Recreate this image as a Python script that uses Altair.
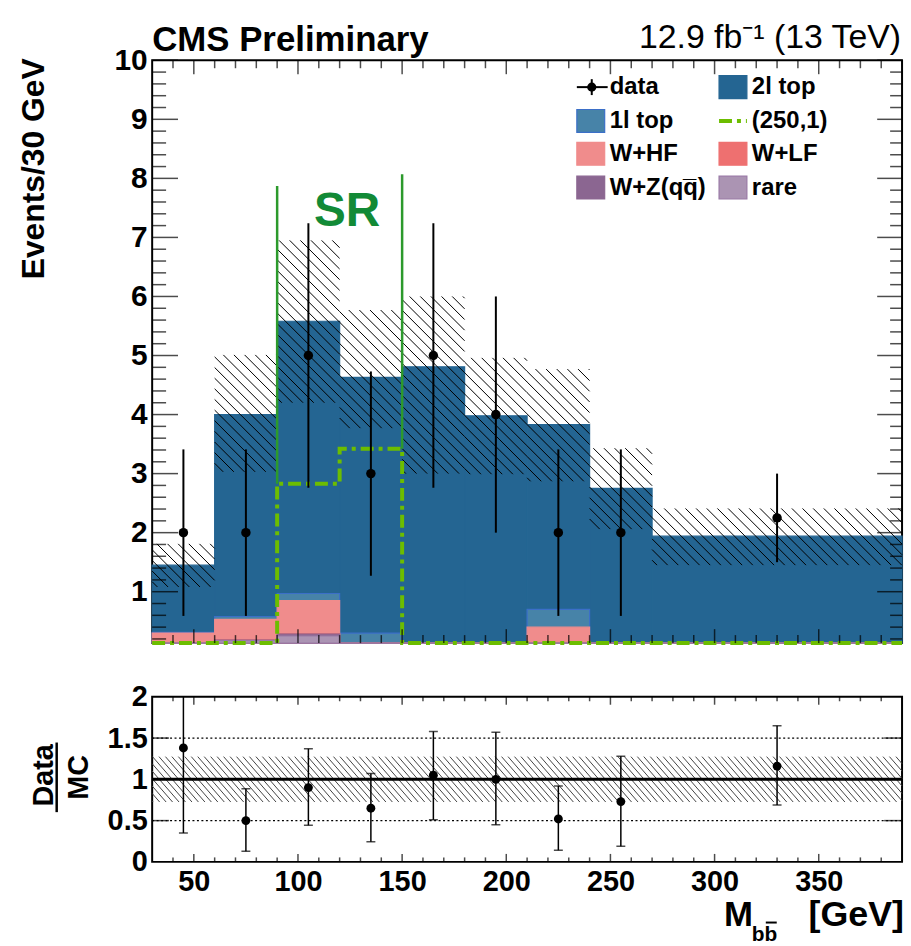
import altair as alt
import numpy as np
import pandas as pd

# ------------------------------------------------------------------ data
bin_lo = [30, 60, 90, 120, 150, 180, 210, 240, 270]
bin_hi = [60, 90, 120, 150, 180, 210, 240, 270, 390]
bin_center = [45, 75, 105, 135, 165, 195, 225, 255, 330]

data_val = [2, 2, 5, 3, 5, 4, 2, 2, 2.25]
data_err = [1.41, 1.41, 2.24, 1.73, 2.24, 2.0, 1.41, 1.41, 0.75]

bkg_rare = [0.03, 0.17, 0.25, 0.04, 0.02, 0.02, 0.03, 0.01, 0.01]
bkg_wz = [0.02, 0.01, 0.03, 0.02, 0.00, 0.00, 0.01, 0.00, 0.00]
bkg_wlf = [0.01, 0.01, 0.01, 0.00, 0.00, 0.00, 0.00, 0.00, 0.00]
bkg_whf = [0.24, 0.34, 0.56, 0.00, 0.00, 0.00, 0.36, 0.00, 0.00]
bkg_1l = [0.01, 0.05, 0.12, 0.24, 0.05, 0.03, 0.30, 0.03, 0.02]
bkg_2l = [1.14, 3.42, 4.61, 4.33, 4.74, 3.93, 3.13, 2.71, 1.91]

band_lo = [1.08, 3.03, 4.20, 3.77, 3.00, 2.99, 2.87, 2.06, 1.45]
band_hi = [1.81, 5.01, 6.95, 5.77, 6.00, 4.96, 4.77, 3.43, 2.41]

signal = [0, 0, 2.83, 3.42, 0, 0, 0, 0, 0]

sr_x = [90, 150]
sr_lo = [2.83, 3.42]
sr_hi = [7.87, 8.07]

ratio_val = [1.38, 0.50, 0.90, 0.65, 1.05, 1.00, 0.52, 0.73, 1.16]
ratio_lo = [0.35, 0.13, 0.445, 0.245, 0.51, 0.45, 0.14, 0.19, 0.69]
ratio_hi = [2.40, 0.887, 1.37, 1.07, 1.58, 1.57, 0.92, 1.28, 1.65]
ratio_band = [0.725, 1.275]
ratio_lines = [0.5, 1.5]

main_y_labels = [1, 2, 3, 4, 5, 6, 7, 8, 9, 10]
ratio_y_labels = [0, 0.5, 1, 1.5, 2]
x_labels = [50, 100, 150, 200, 250, 300, 350]

comp_names = ["2l top", "1l top", "W+HF", "W+LF", "W+Z(qq\u0305)", "rare"]
comp_fill = ["#246592", "#4783a8", "#f08c8c", "#ee7070", "#8b6691", "#ab94b3"]
comp_stroke = ["#246592", "#3b6fc8", "#f08c8c", "#ee7070", "#8b6691", "#9a7aa6"]

# ------------------------------------------------------------------ layout
W = 754
H_MAIN = 586
H_RATIO = 166
X_DOM = [30, 390]
Y_DOM = [0.13, 10]
R_DOM = [0, 2]
FONT = "Liberation Sans, Arial, Helvetica, sans-serif"
SIG = "#6cbd00"
SRC = "#2c9a2c"

xs = alt.Scale(domain=X_DOM, nice=False, zero=False)
ys = alt.Scale(domain=Y_DOM, nice=False, zero=False, clamp=True)
rs = alt.Scale(domain=R_DOM, nice=False, zero=False)


def lab_axis(values, size, pad, flush=False):
    return alt.Axis(values=values, ticks=False, tickSize=0, domain=False, grid=False,
                    labelFont=FONT, labelFontSize=size, labelFontWeight="bold",
                    labelColor="black", labelPadding=pad, labelOverlap=False,
                    labelFlush=flush, labelExpr="'' + datum.value", title=None)


AX_MY = lab_axis(main_y_labels, 30, 5)
AX_RX = lab_axis(x_labels, 29, 6)
AX_RY = lab_axis(ratio_y_labels, 29, 5)

MX = dict(scale=xs, axis=None)
MY = dict(scale=ys, axis=AX_MY)
RX = dict(scale=xs, axis=AX_RX)
RY = dict(scale=rs, axis=AX_RY)

one = pd.DataFrame({"k": [0]})


def hatch(rects, xdom, ydom, w, h, hstep, m=1.0):
    """diagonal '\\' hatch segments (in data units) clipped to rectangles"""
    def px(x):
        return (x - xdom[0]) / (xdom[1] - xdom[0]) * w

    def py(y):
        return (ydom[1] - y) / (ydom[1] - ydom[0]) * h

    def dx(p):
        return xdom[0] + p / w * (xdom[1] - xdom[0])

    def dy(p):
        return ydom[1] - p / h * (ydom[1] - ydom[0])

    s = hstep * m
    segs = []
    for (x0, x1, y0, y1) in rects:
        X0, X1 = px(x0), px(x1)
        Y0, Y1 = py(y1), py(y0)
        kmin = int(np.ceil((Y0 - m * X1) / s))
        kmax = int(np.floor((Y1 - m * X0) / s))
        for k in range(kmin, kmax + 1):
            c = k * s
            xa = max(X0, (Y0 - c) / m)
            xb = min(X1, (Y1 - c) / m)
            if xb - xa > 0.4:
                segs.append(dict(x=dx(xa), y=dy(m * xa + c), x2=dx(xb), y2=dy(m * xb + c)))
    return pd.DataFrame(segs)


# ------------------------------------------------------------------ main panel
comps = [bkg_rare, bkg_wz, bkg_wlf, bkg_whf, bkg_1l, bkg_2l]  # bottom -> top
cum = np.cumsum(np.array(comps), axis=0)
names_bt = comp_names[::-1]
rows = []
for ci in range(len(comps) - 1, -1, -1):  # draw top component first (ROOT style)
    for i in range(len(bin_lo)):
        rows.append(dict(comp=names_bt[ci], x=bin_lo[i], x2=bin_hi[i], y=0.0, y2=float(cum[ci, i])))
stack_df = pd.DataFrame(rows)

stack = alt.Chart(stack_df).mark_rect(strokeWidth=1.2).encode(
    x=alt.X("x:Q", **MX), x2="x2:Q",
    y=alt.Y("y:Q", **MY), y2="y2:Q",
    fill=alt.Fill("comp:N", scale=alt.Scale(domain=comp_names, range=comp_fill), legend=None),
    stroke=alt.Stroke("comp:N", scale=alt.Scale(domain=comp_names, range=comp_stroke), legend=None),
)

band_df = hatch(list(zip(bin_lo, bin_hi, band_lo, band_hi)), X_DOM, Y_DOM, W, H_MAIN, 10.7, 1.0)
band = alt.Chart(band_df).mark_rule(color="black", strokeWidth=1).encode(
    x=alt.X("x:Q", **MX), x2="x2:Q", y=alt.Y("y:Q", **MY), y2="y2:Q")

sig_df = pd.DataFrame({"x": bin_lo + [bin_hi[-1]], "v": signal + [signal[-1]]})
sig = alt.Chart(sig_df).mark_line(color=SIG, strokeWidth=4, strokeDash=[13, 5, 4, 5],
                                  interpolate="step-after").encode(
    x=alt.X("x:Q", **MX), y=alt.Y("v:Q", **MY))

sr_df = pd.DataFrame({"x": sr_x, "lo": sr_lo, "hi": sr_hi})
sr = alt.Chart(sr_df).mark_rule(color=SRC, strokeWidth=2.5).encode(
    x=alt.X("x:Q", **MX), y=alt.Y("lo:Q", **MY), y2="hi:Q")

d_df = pd.DataFrame({"x": bin_center, "v": data_val,
                     "lo": np.array(data_val) - np.array(data_err),
                     "hi": np.array(data_val) + np.array(data_err)})
d_err = alt.Chart(d_df).mark_rule(color="black", strokeWidth=2).encode(
    x=alt.X("x:Q", **MX), y=alt.Y("lo:Q", **MY), y2="hi:Q")
d_pts = alt.Chart(d_df).mark_circle(color="black", size=90, opacity=1).encode(
    x=alt.X("x:Q", **MX), y=alt.Y("v:Q", **MY))

# ticks (ROOT style, inside frame)
y_major = pd.DataFrame({"v": main_y_labels})
y_minor = pd.DataFrame({"v": [round(v, 2) for v in np.arange(0.2, 10.0, 0.2)
                              if abs(v - round(v)) > 1e-6]})
x_major = pd.DataFrame({"v": x_labels})
x_minor = pd.DataFrame({"v": [v for v in range(40, 390, 10) if v % 50 != 0]})


def yticks(df, yenc, xpos, size):
    return alt.Chart(df).mark_tick(orient="horizontal", color="black", thickness=1.5,
                                   size=size).encode(
        x=alt.value(xpos), y=alt.Y("v:Q", **yenc))


def xticks(df, xenc, ypos, size):
    return alt.Chart(df).mark_tick(orient="vertical", color="black", thickness=1.5,
                                   size=size).encode(
        y=alt.value(ypos), x=alt.X("v:Q", **xenc))


main_ticks = [
    yticks(y_major, MY, 13, 26), yticks(y_minor, MY, 7, 14),
    yticks(y_major, MY, W - 12.5, 25), yticks(y_minor, MY, W - 6, 12),
    xticks(x_major, MX, H_MAIN - 7, 14), xticks(x_minor, MX, H_MAIN - 4, 8),
    xticks(x_major, MX, 7, 14), xticks(x_minor, MX, 4, 8),
]


def txt(s, x, y, size, weight="bold", align="left", baseline="alphabetic", color="black",
        angle=0, font=FONT):
    kw = dict(font=font, fontSize=size, fontWeight=weight, align=align, baseline=baseline,
              color=color)
    if angle:
        kw["angle"] = angle
    return alt.Chart(one).mark_text(**kw).encode(
        x=alt.value(x), y=alt.value(y), text=alt.value(s))


def box(x0, x1, y0, y1, fill, stroke):
    return alt.Chart(one).mark_rect(fill=fill, stroke=stroke, strokeWidth=1.2).encode(
        x=alt.value(x0), x2=alt.value(x1), y=alt.value(y0), y2=alt.value(y1))


def seg(x0, x1, y0, y1, color, width, dash=None):
    kw = dict(color=color, strokeWidth=width)
    if dash:
        kw["strokeDash"] = dash
    return alt.Chart(one).mark_rule(**kw).encode(
        x=alt.value(x0), x2=alt.value(x1), y=alt.value(y0), y2=alt.value(y1))


# legend (two columns)
row_y = [27, 61, 94, 128]
col_box = [427, 570]
col_txt = [460, 603]
BW, BH = 28, 23
legend = []
legend += [seg(col_box[0], col_box[0] + BW + 3, row_y[0], row_y[0], "black", 2),
           seg(col_box[0] + 15, col_box[0] + 15, row_y[0] - 8, row_y[0] + 8, "black", 2),
           alt.Chart(one).mark_circle(color="black", size=85, opacity=1).encode(
               x=alt.value(col_box[0] + 15), y=alt.value(row_y[0])),
           txt("data", col_txt[0], row_y[0], 24, baseline="middle")]
legend += [seg(col_box[1], col_box[1] + BW, row_y[1], row_y[1], SIG, 4, [13, 5, 4, 5]),
           txt("(250,1)", col_txt[1], row_y[1], 24, baseline="middle")]
box_pos = {"2l top": (0, 1), "1l top": (1, 0), "W+HF": (2, 0), "W+LF": (2, 1),
           "W+Z(qq\u0305)": (3, 0), "rare": (3, 1)}
for name, fill, stroke in zip(comp_names, comp_fill, comp_stroke):
    r, c = box_pos[name]
    legend.append(box(col_box[c], col_box[c] + BW, row_y[r] - BH / 2, row_y[r] + BH / 2,
                      fill, stroke))
    legend.append(txt(name, col_txt[c], row_y[r], 24, baseline="middle"))

annot = [
    txt("CMS Preliminary", 0, -9, 35),
    txt("12.9 fb\u207b\u00b9 (13 TeV)", 753, -12, 34, weight="normal", align="right"),
    txt("SR", 196, 167, 48, align="center", color="#128a36"),
    txt("Events/30 GeV", -109, -2, 32, align="right", angle=270),
]

anchor = alt.Chart(one).mark_rect(opacity=0).encode(
    x=alt.value(-152), x2=alt.value(-151), y=alt.value(-57), y2=alt.value(-56))

main = alt.layer(stack, band, sig, sr, d_err, d_pts, *main_ticks, *legend, *annot,
                 anchor).properties(width=W, height=H_MAIN)

# ------------------------------------------------------------------ ratio panel
rband_df = hatch([(X_DOM[0], X_DOM[1], ratio_band[0], ratio_band[1])], X_DOM, R_DOM, W,
                 H_RATIO, 6.5, 1.15)
rband = alt.Chart(rband_df).mark_rule(color="#444444", strokeWidth=1).encode(
    x=alt.X("x:Q", **RX), x2="x2:Q", y=alt.Y("y:Q", **RY), y2="y2:Q")

rl_df = pd.DataFrame({"y": ratio_lines, "x0": [X_DOM[0]] * 2, "x1": [X_DOM[1]] * 2})
rlines = alt.Chart(rl_df).mark_rule(color="black", strokeWidth=1.3, strokeDash=[2, 2.5]).encode(
    y=alt.Y("y:Q", **RY), x=alt.X("x0:Q", **RX), x2="x1:Q")
one_df = pd.DataFrame({"y": [1], "x0": [X_DOM[0]], "x1": [X_DOM[1]]})
one_line = alt.Chart(one_df).mark_rule(color="black", strokeWidth=3).encode(
    y=alt.Y("y:Q", **RY), x=alt.X("x0:Q", **RX), x2="x1:Q")

r_df = pd.DataFrame({"x": bin_center, "v": ratio_val, "lo": ratio_lo, "hi": ratio_hi})
r_err = alt.Chart(r_df).mark_rule(color="black", strokeWidth=1.5, clip=True).encode(
    x=alt.X("x:Q", **RX), y=alt.Y("lo:Q", **RY), y2="hi:Q")
r_cap_lo = alt.Chart(r_df).mark_tick(orient="horizontal", color="black", thickness=1.5,
                                     size=9, clip=True).encode(
    x=alt.X("x:Q", **RX), y=alt.Y("lo:Q", **RY))
r_cap_hi = alt.Chart(r_df).mark_tick(orient="horizontal", color="black", thickness=1.5,
                                     size=9, clip=True).encode(
    x=alt.X("x:Q", **RX), y=alt.Y("hi:Q", **RY))
r_pts = alt.Chart(r_df).mark_circle(color="black", size=80, opacity=1).encode(
    x=alt.X("x:Q", **RX), y=alt.Y("v:Q", **RY))

ry_major = pd.DataFrame({"v": [0.5, 1.0, 1.5]})
ratio_ticks = [
    yticks(ry_major, RY, 8.5, 17), yticks(ry_major, RY, W - 9, 18),
    xticks(x_major, RX, H_RATIO - 4, 8), xticks(x_minor, RX, H_RATIO - 2.25, 4.5),
    xticks(x_major, RX, 4, 8), xticks(x_minor, RX, 2.25, 4.5),
]

ratio_annot = [
    txt("Data", -100, 79, 29, align="center", angle=270),
    txt("MC", -65, 81, 29, align="center", angle=270),
    seg(-96, -96, 46, 116, "black", 2.5),
    txt("M", 575, 230, 35),
    txt("bb", 603, 246, 21),
    seg(617, 628, 227, 227, "black", 2),
    txt("[GeV]", 756, 230, 36, align="right"),
]

ratio = alt.layer(rband, rlines, one_line, r_err, r_cap_lo, r_cap_hi, r_pts, *ratio_ticks,
                  *ratio_annot).properties(width=W, height=H_RATIO)

chart = alt.VConcatChart(vconcat=[main, ratio], spacing=54, bounds="flush").properties(
    padding={"left": 0, "top": 0, "right": 0, "bottom": 0},
    background="white",
).configure_view(stroke="black", strokeWidth=2)

chart.save("out.html", embed_options={"renderer": "svg", "actions": False})
